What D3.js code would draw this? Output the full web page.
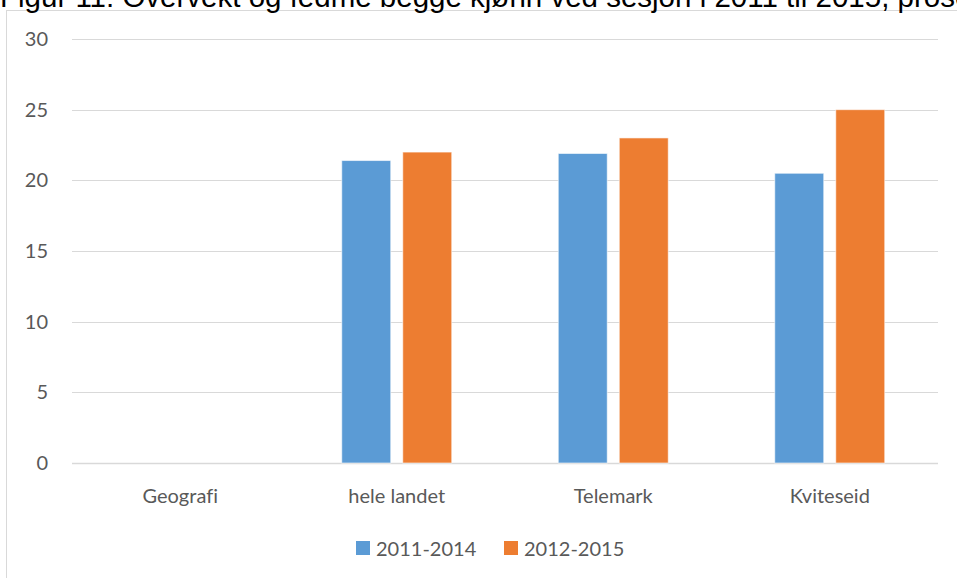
<!DOCTYPE html>
<html>
<head>
<meta charset="utf-8">
<script src="https://cdn.jsdelivr.net/npm/d3@7"></script>
<style>
  body { margin: 0; background: #fff; }
  svg { display: block; }
  text { font-variant-ligatures: none; }
</style>
</head>
<body>
<div id="chart"></div>
<script>
var title = "Figur 11: Overvekt og fedme begge kjønn ved sesjon i 2011 til 2015, prosent";
var categories = ["Geografi", "hele landet", "Telemark", "Kviteseid"];
var seriesNames = ["2011-2014", "2012-2015"];
var values2011_2014 = [null, 21.4, 21.9, 20.5];
var values2012_2015 = [null, 22.0, 23.0, 25.0];
var yTicks = [0, 5, 10, 15, 20, 25, 30];
var colors = ["#5b9bd5", "#ed7d31"];

var width = 957, height = 578;
var plot = { left: 72, right: 938, top: 39, bottom: 463 };

var svg = d3.select("#chart").append("svg")
  .attr("width", width)
  .attr("height", height);

svg.append("rect")
  .attr("width", width).attr("height", height)
  .attr("fill", "#fff");

// chart frame (runs off right/bottom edge)
svg.append("rect")
  .attr("x", 6.5).attr("y", 10.5)
  .attr("width", 1000).attr("height", 1000)
  .attr("fill", "none")
  .attr("stroke", "#d9d9d9")
  .attr("stroke-width", 1);

// title, cut by the top edge like in the source picture
svg.append("text")
  .attr("x", 0).attr("y", 7)
  .style("font-family", "'Liberation Sans', Arial, sans-serif")
  .style("font-size", "29.5px")
  .attr("fill", "#000")
  .text(title);

var x = d3.scaleBand()
  .domain(categories)
  .range([plot.left, plot.right])
  .paddingInner(0)
  .paddingOuter(0);

var xInner = d3.scaleBand()
  .domain(seriesNames)
  .range([0, x.bandwidth()])
  .paddingInner(0.197)
  .paddingOuter(0.873);

var y = d3.scaleLinear()
  .domain([0, 30])
  .range([plot.bottom, plot.top]);

// gridlines
svg.append("g")
  .selectAll("line")
  .data(yTicks)
  .enter().append("line")
  .attr("x1", plot.left).attr("x2", plot.right)
  .attr("y1", function(d) { return Math.round(y(d)) + 0.5; })
  .attr("y2", function(d) { return Math.round(y(d)) + 0.5; })
  .attr("stroke", "#d9d9d9")
  .attr("stroke-width", function(d) { return d === 0 ? 1.5 : 1; });

// y labels
svg.append("g")
  .selectAll("text")
  .data(yTicks)
  .enter().append("text")
  .attr("x", 48)
  .attr("y", function(d) { return y(d); })
  .attr("dy", "0.35em")
  .attr("text-anchor", "end")
  .style("font-family", "Lato, 'Open Sans', sans-serif")
  .style("font-size", "20px")
  .attr("fill", "#595959")
  .text(function(d) { return d; });

// bars
var seriesData = [values2011_2014, values2012_2015];
seriesData.forEach(function(vals, si) {
  svg.append("g")
    .selectAll("rect")
    .data(categories.map(function(c, i) { return { cat: c, v: vals[i] }; })
      .filter(function(d) { return d.v != null; }))
    .enter().append("rect")
    .attr("x", function(d) { return x(d.cat) + xInner(seriesNames[si]); })
    .attr("width", xInner.bandwidth())
    .attr("y", function(d) { return y(d.v); })
    .attr("height", function(d) { return y(0) - y(d.v); })
    .attr("fill", colors[si])
    .attr("stroke", "#fff")
    .attr("stroke-opacity", 0.6)
    .attr("stroke-width", 1);
});

// category labels
svg.append("g")
  .selectAll("text")
  .data(categories)
  .enter().append("text")
  .attr("x", function(d) { return x(d) + x.bandwidth() / 2; })
  .attr("y", 503)
  .attr("text-anchor", "middle")
  .style("font-family", "Lato, 'Open Sans', sans-serif")
  .style("font-size", "20px")
  .attr("fill", "#595959")
  .text(function(d) { return d; });

// legend
var legendX = [356, 504];
var legend = svg.append("g")
  .selectAll("g")
  .data(seriesNames)
  .enter().append("g")
  .attr("transform", function(d, i) { return "translate(" + legendX[i] + ",541)"; });

legend.append("rect")
  .attr("width", 14).attr("height", 14)
  .attr("fill", function(d, i) { return colors[i]; });

legend.append("text")
  .attr("x", 20).attr("y", 15)
  .style("font-family", "Lato, 'Open Sans', sans-serif")
  .style("font-size", "20px")
  .attr("fill", "#595959")
  .text(function(d) { return d; });
</script>
</body>
</html>
